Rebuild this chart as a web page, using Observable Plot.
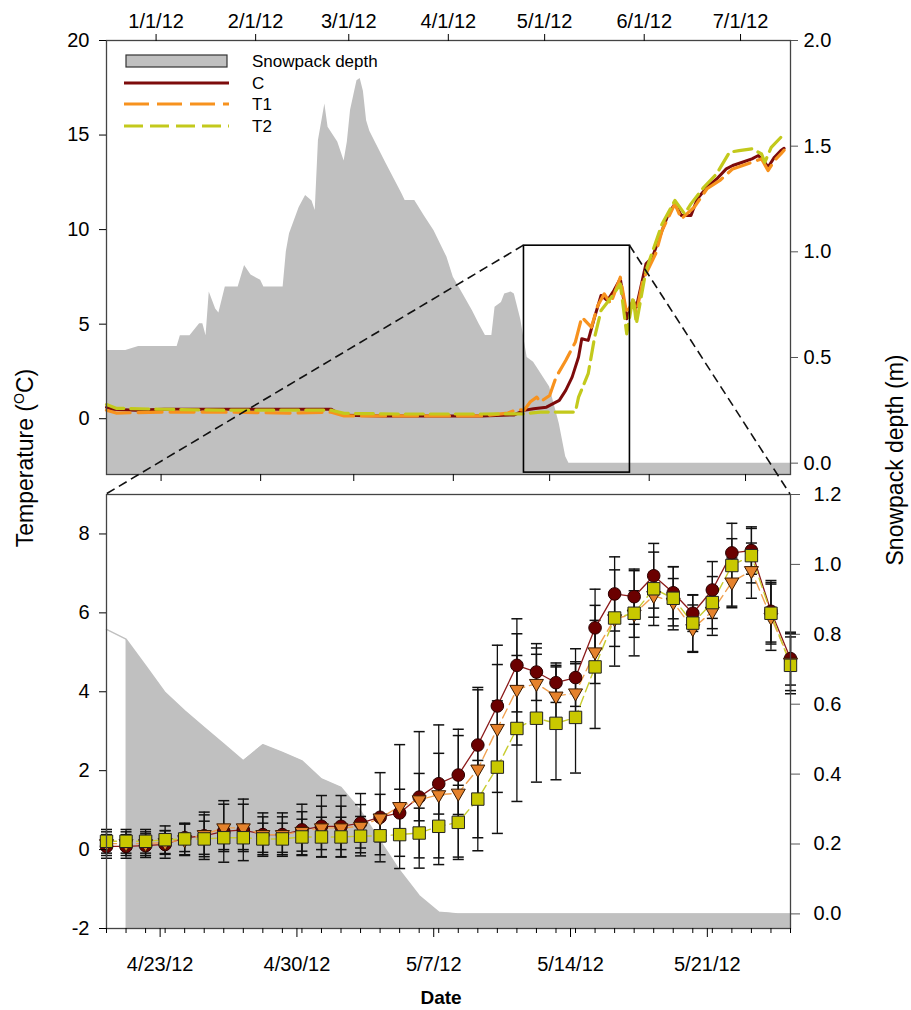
<!DOCTYPE html>
<html><head><meta charset="utf-8">
<script src="https://cdn.jsdelivr.net/npm/d3@7"></script>
<script src="https://cdn.jsdelivr.net/npm/@observablehq/plot@0.6"></script>
<style>
body{margin:0;background:#fff;}
#wrap{position:relative;width:911px;height:1010px;}
</style></head><body><div id="wrap"></div>
<script>
// ---------------- DATA ----------------
// Top panel: snowpack depth (m), Dec 2011 - Jul 2012
const snowTop = [["2011-12-15",0.533],["2011-12-21",0.533],["2011-12-25",0.552],["2012-01-06",0.552],["2012-01-07",0.603],["2012-01-10",0.603],["2012-01-13",0.66],["2012-01-14",0.66],["2012-01-15",0.603],["2012-01-16",0.81],["2012-01-18",0.73],["2012-01-19",0.71],["2012-01-21",0.833],["2012-01-25",0.833],["2012-01-27",0.935],["2012-01-29",0.89],["2012-02-01",0.865],["2012-02-02",0.833],["2012-02-08",0.833],["2012-02-09",1.0],["2012-02-10",1.085],["2012-02-13",1.21],["2012-02-15",1.266],["2012-02-17",1.24],["2012-02-18",1.195],["2012-02-19",1.527],["2012-02-21",1.70],["2012-02-22",1.59],["2012-02-25",1.52],["2012-02-27",1.43],["2012-02-28",1.52],["2012-02-29",1.67],["2012-03-02",1.81],["2012-03-03",1.82],["2012-03-04",1.76],["2012-03-05",1.62],["2012-03-06",1.57],["2012-03-08",1.51],["2012-03-11",1.42],["2012-03-16",1.275],["2012-03-17",1.243],["2012-03-20",1.243],["2012-03-23",1.17],["2012-03-26",1.10],["2012-03-30",0.975],["2012-04-01",0.88],["2012-04-04",0.80],["2012-04-07",0.72],["2012-04-09",0.66],["2012-04-11",0.604],["2012-04-13",0.604],["2012-04-14",0.738],["2012-04-16",0.76],["2012-04-17",0.80],["2012-04-19",0.81],["2012-04-20",0.80],["2012-04-22",0.68],["2012-04-24",0.50],["2012-04-26",0.478],["2012-05-01",0.36],["2012-05-04",0.186],["2012-05-06",0.03],["2012-05-07",0.0],["2012-07-15",0.0]];

// Top panel: temperature (°C)
const tempC = [["2011-12-15",0.6],["2011-12-17",0.5],["2011-12-24",0.45],["2012-01-02",0.5],["2012-01-15",0.5],["2012-02-01",0.5],["2012-02-15",0.5],["2012-02-23",0.5],["2012-02-25",0.3],["2012-02-27",0.18],["2012-03-10",0.15],["2012-03-25",0.15],["2012-04-10",0.15],["2012-04-20",0.2],["2012-04-23",0.44],["2012-04-26",0.53],["2012-04-30",0.61],["2012-05-04",0.97],["2012-05-06",1.5],["2012-05-08",2.2],["2012-05-10",3.26],["2012-05-11",4.23],["2012-05-13",4.14],["2012-05-15",5.37],["2012-05-17",6.52],["2012-05-19",6.25],["2012-05-21",6.78],["2012-05-23",7.4],["2012-05-25",5.29],["2012-05-27",6.25],["2012-05-28",5.9],["2012-05-31",8.19],["2012-06-02",8.54],["2012-06-05",9.95],["2012-06-07",10.84],["2012-06-09",11.36],["2012-06-11",10.75],["2012-06-14",10.75],["2012-06-16",11.63],["2012-06-19",12.24],["2012-06-22",12.68],["2012-06-25",13.21],["2012-06-27",13.39],["2012-06-30",13.56],["2012-07-03",13.74],["2012-07-05",13.92],["2012-07-07",13.56],["2012-07-08",13.3],["2012-07-10",13.83],["2012-07-12",14.18],["2012-07-13",14.3]];
const tempT1 = [["2011-12-15",0.45],["2011-12-18",0.3],["2012-01-01",0.35],["2012-01-20",0.35],["2012-02-10",0.3],["2012-02-23",0.35],["2012-02-27",0.15],["2012-03-15",0.15],["2012-04-10",0.15],["2012-04-18",0.3],["2012-04-21",0.5],["2012-04-23",0.44],["2012-04-25",0.9],["2012-04-27",1.14],["2012-04-28",0.88],["2012-05-01",1.23],["2012-05-03",2.2],["2012-05-06",3.08],["2012-05-09",4.05],["2012-05-11",5.37],["2012-05-13",5.02],["2012-05-14",4.84],["2012-05-16",5.99],["2012-05-18",6.6],["2012-05-20",6.08],["2012-05-23",7.48],["2012-05-25",5.55],["2012-05-27",6.25],["2012-05-28",5.55],["2012-05-30",7.31],["2012-06-03",8.72],["2012-06-05",9.95],["2012-06-09",11.36],["2012-06-11",10.57],["2012-06-15",11.18],["2012-06-19",12.16],["2012-06-23",12.6],["2012-06-27",13.21],["2012-07-03",13.56],["2012-07-06",13.74],["2012-07-08",13.12],["2012-07-10",13.65],["2012-07-12",14.0],["2012-07-13",14.2]];
const tempT2 = [["2011-12-15",0.75],["2011-12-18",0.55],["2012-01-01",0.5],["2012-01-20",0.45],["2012-02-10",0.45],["2012-02-23",0.45],["2012-02-27",0.28],["2012-03-15",0.25],["2012-04-10",0.25],["2012-04-23",0.26],["2012-04-28",0.35],["2012-05-09",0.35],["2012-05-10",1.14],["2012-05-13",2.38],["2012-05-15",4.31],["2012-05-17",5.72],["2012-05-19",6.16],["2012-05-21",6.6],["2012-05-23",7.13],["2012-05-25",4.49],["2012-05-27",6.43],["2012-05-28",5.02],["2012-05-31",7.84],["2012-06-05",10.3],["2012-06-09",11.54],["2012-06-12",10.84],["2012-06-14",11.36],["2012-06-18",12.24],["2012-06-22",12.95],["2012-06-26",14.09],["2012-06-29",14.18],["2012-07-03",14.27],["2012-07-06",14.0],["2012-07-07",13.56],["2012-07-09",14.35],["2012-07-12",14.88],["2012-07-13",15.0]];

// zoom window drawn in the top panel
const zoomBox = {x1: "2012-04-23", x2: "2012-05-26", y1: -2.85, y2: 9.15};

// Bottom panel: daily means Apr 20 - May 25, 2012
const bStart = "2012-04-20", bEnd = "2012-05-25";
const snowBot = [0.814,0.786,0.71,0.633,0.581,0.533,0.486,0.438,0.484,0.462,0.438,0.386,0.362,0.295,0.209,0.124,0.052,0.005,0,0,0,0,0,0,0,0,0,0,0,0,0,0,0,0,0,0];
const meanC  = [0.08,0.08,0.1,0.13,0.3,0.35,0.46,0.5,0.38,0.38,0.5,0.59,0.59,0.67,0.82,0.93,1.33,1.67,1.89,2.65,3.64,4.67,4.5,4.23,4.36,5.62,6.48,6.41,6.94,6.51,5.99,6.58,7.52,7.58,6.04,4.84];
const meanT1 = [0.15,0.15,0.15,0.18,0.25,0.38,0.55,0.55,0.38,0.38,0.46,0.55,0.55,0.59,0.8,1.09,1.26,1.39,1.43,2.04,3.07,4.06,4.21,3.89,3.97,5.01,5.85,5.97,6.44,6.27,5.6,6.04,6.78,7.07,5.89,4.75];
const meanT2 = [0.21,0.21,0.21,0.25,0.27,0.27,0.3,0.3,0.27,0.27,0.32,0.32,0.32,0.34,0.35,0.38,0.42,0.59,0.69,1.28,2.09,3.07,3.33,3.2,3.35,4.63,5.87,5.99,6.61,6.37,5.74,6.26,7.2,7.45,5.99,4.67];
const sdC  = [0.3,0.3,0.3,0.35,0.35,0.6,0.78,0.78,0.55,0.55,0.65,0.78,0.78,0.75,1.13,0.6,0.6,0.77,1.0,1.4,1.54,1.18,0.72,0.5,0.73,0.98,0.94,0.7,0.82,0.66,0.46,0.72,0.36,0.6,0.78,0.67];
const sdT1 = [0.3,0.3,0.3,0.3,0.4,0.5,0.6,0.6,0.45,0.45,0.5,0.55,0.55,0.55,0.6,1.57,1.73,1.77,1.62,2.07,1.62,1.41,0.9,0.78,0.74,0.8,0.7,0.59,0.55,0.6,0.6,0.61,0.61,0.7,0.84,0.72];
const sdT2 = [0.3,0.3,0.3,0.35,0.4,0.45,0.3,0.3,0.4,0.4,0.45,0.5,0.5,0.5,0.48,0.55,0.63,0.8,0.94,0.98,1.68,1.85,1.62,1.43,1.41,1.56,1.22,1.08,0.93,0.8,0.72,0.66,1.07,0.69,0.78,0.72];

// tick values
const topMonthTicks = ["2012-01-01","2012-02-01","2012-03-01","2012-04-01","2012-05-01","2012-06-01","2012-07-01"];
const topTempTicks = [0, 5, 10, 15, 20];
const topSnowTicks = [0, 0.5, 1.0, 1.5, 2.0];
const botWeekTicks = ["2012-04-23","2012-04-30","2012-05-07","2012-05-14","2012-05-21"];
const botTempTicks = [-2, 0, 2, 4, 6, 8];
const botSnowTicks = [0, 0.2, 0.4, 0.6, 0.8, 1.0, 1.2];

// ---------------- STYLE ----------------
const FONT = '"Liberation Sans", Arial, Helvetica, sans-serif';
const colC = "#7d0b0b", colT1 = "#f7921e", colT2 = "#c3c91c", snowCol = "#c0c0c0";
const mkC = "#6b0000", mkT1 = "#e5822c", mkT2 = "#c9c800";

// snow -> temperature axis mappings (secondary right axes)
const topYDomain = [-2.95, 20], botYDomain = [-2, 9];
const topA = -2.35, topB = (20 - topA) / 2.0;
const botA = -1.63, botB = (9 - botA) / 1.2;
const topT = s => topA + topB * s;
const botT = s => botA + botB * s;

const D = s => new Date(s);
const fmt = d3.utcFormat("%-m/%-d/%y");
const plain = d => String(d);
const toRows = arr => arr.map(([d, v]) => ({date: D(d), v}));

const bDates = d3.utcDays(D(bStart), d3.utcDay.offset(D(bEnd), 1));
const bData = bDates.map((date, i) => ({
  date, s: snowBot[i],
  c: meanC[i], t1: meanT1[i], t2: meanT2[i],
  sc: sdC[i], s1: sdT1[i], s2: sdT2[i]
}));

const capSymbol = {draw(ctx, size) { const w = Math.sqrt(size / Math.PI); ctx.moveTo(-w, 0); ctx.lineTo(w, 0); }};

const svgStyle = {position: "absolute", left: "0px", top: "0px", background: "transparent", fontFamily: FONT, fontSize: "20px", color: "#000", overflow: "visible"};

// ---------------- TOP PANEL ----------------
const topPlot = Plot.plot({
  width: 911, height: 490,
  marginTop: 40, marginBottom: 16, marginLeft: 106, marginRight: 121,
  style: svgStyle,
  x: {type: "utc", domain: [D("2011-12-15"), D("2012-07-15")]},
  y: {domain: topYDomain},
  marks: [
    Plot.areaY(toRows(snowTop), {x: "date", y1: () => topYDomain[0], y2: d => topT(d.v), fill: snowCol}),
    Plot.line(toRows(tempC), {x: "date", y: "v", stroke: colC, strokeWidth: 3}),
    Plot.line(toRows(tempT1), {x: "date", y: "v", stroke: colT1, strokeWidth: 3.2, strokeDasharray: "24,8"}),
    Plot.line(toRows(tempT2), {x: "date", y: "v", stroke: colT2, strokeWidth: 3.2, strokeDasharray: "18,7"}),
    Plot.rect([zoomBox], {x1: d => D(d.x1), x2: d => D(d.x2), y1: "y1", y2: "y2", fill: "none", stroke: "#000", strokeWidth: 1.6}),
    Plot.frame({stroke: "#444", strokeWidth: 1.3}),
    Plot.axisX({anchor: "top", ticks: topMonthTicks.map(D), tickFormat: fmt, tickSize: 7, tickPadding: 6, dx: -5, label: null}),
    Plot.axisX({anchor: "bottom", ticks: topMonthTicks.map(D), tickFormat: () => "", tickSize: 7, label: null}),
    Plot.axisY({anchor: "left", ticks: topTempTicks, tickFormat: plain, tickSize: 7, tickPadding: 10, label: null}),
    Plot.axisY({anchor: "right", ticks: topSnowTicks.map(topT), tickFormat: t => ((t - topA) / topB).toFixed(1), tickSize: 7, tickPadding: 6, label: null, stroke: "#555"})
  ]
});

// ---------------- BOTTOM PANEL ----------------
const bar = (key, sd) => [
  Plot.ruleX(bData, {x: "date", y1: d => d[key] - d[sd], y2: d => d[key] + d[sd], stroke: "#111", strokeWidth: 1.3}),
  Plot.dot(bData, {x: "date", y: d => d[key] + d[sd], symbol: capSymbol, r: 5.5, stroke: "#111", fill: "none", strokeWidth: 1.5}),
  Plot.dot(bData, {x: "date", y: d => d[key] - d[sd], symbol: capSymbol, r: 5.5, stroke: "#111", fill: "none", strokeWidth: 1.5})
];

const botPlot = Plot.plot({
  width: 911, height: 1010,
  marginTop: 494, marginBottom: 82, marginLeft: 106, marginRight: 121,
  style: svgStyle,
  x: {type: "utc", domain: [D(bStart), D(bEnd)]},
  y: {domain: botYDomain},
  marks: [
    Plot.areaY(bData.slice(1), {x: "date", y1: () => botYDomain[0], y2: d => botT(d.s), fill: snowCol}),
    Plot.line(bData, {x: "date", y: d => botT(d.s), stroke: snowCol, strokeWidth: 1.5}),
    ...bar("c", "sc"), ...bar("t1", "s1"), ...bar("t2", "s2"),
    Plot.line(bData, {x: "date", y: "c", stroke: "#8b1a1a", strokeWidth: 1.3}),
    Plot.line(bData, {x: "date", y: "t1", stroke: "#f0a050", strokeWidth: 1.4, strokeDasharray: "10,5"}),
    Plot.line(bData, {x: "date", y: "t2", stroke: "#c8cc30", strokeWidth: 1.4, strokeDasharray: "10,5"}),
    Plot.dot(bData, {x: "date", y: "c", symbol: "circle", r: 6.3, fill: mkC, stroke: "#2a0000", strokeWidth: 1}),
    Plot.dot(bData, {x: "date", y: "t1", symbol: "triangle", r: 5.2, rotate: 180, fill: mkT1, stroke: "#3a1a00", strokeWidth: 1}),
    Plot.dot(bData, {x: "date", y: "t2", symbol: "square", r: 7, fill: mkT2, stroke: "#222", strokeWidth: 1}),
    Plot.frame({stroke: "#444", strokeWidth: 1.3}),
    Plot.axisX({anchor: "bottom", ticks: bDates, tickFormat: () => "", tickSize: 5, label: null}),
    Plot.axisX({anchor: "bottom", ticks: botWeekTicks.map(D), tickFormat: fmt, tickSize: 9, tickPadding: 19, dx: -5, label: null}),
    Plot.axisY({anchor: "left", ticks: botTempTicks, tickFormat: plain, tickSize: 7, tickPadding: 10, label: null}),
    Plot.axisY({anchor: "right", ticks: botSnowTicks.map(botT), tickFormat: t => ((t - botA) / botB).toFixed(1), tickSize: 9, tickPadding: 14, label: null, stroke: "#555"})
  ]
});

const wrap = document.getElementById("wrap");
wrap.appendChild(topPlot);
wrap.appendChild(botPlot);

// ---------------- OVERLAY: connectors, legend, titles ----------------
const xT = topPlot.scale("x"), yT = topPlot.scale("y");
const xB = botPlot.scale("x"), yB = botPlot.scale("y");
const ov = d3.select(wrap).append("svg")
  .attr("width", 911).attr("height", 1010)
  .style("position", "absolute").style("left", "0px").style("top", "0px")
  .style("font-family", FONT);

[[zoomBox.x1, bStart], [zoomBox.x2, bEnd]].forEach(([a, b]) => {
  ov.append("line")
    .attr("x1", xT.apply(D(a))).attr("y1", yT.apply(zoomBox.y2))
    .attr("x2", xB.apply(D(b))).attr("y2", yB.apply(botYDomain[1]))
    .attr("stroke", "#111").attr("stroke-width", 1.6).attr("stroke-dasharray", "9,5");
});

// legend
const lg = ov.append("g").attr("font-size", 17);
lg.append("rect").attr("x", 126).attr("y", 55).attr("width", 101).attr("height", 12)
  .attr("fill", snowCol).attr("stroke", "#333").attr("stroke-width", 1.2);
const legendRows = [
  {label: "Snowpack depth", y: 61},
  {label: "C", y: 83, stroke: colC, dash: null},
  {label: "T1", y: 104, stroke: colT1, dash: "25,8"},
  {label: "T2", y: 126, stroke: colT2, dash: "19,7"}
];
legendRows.forEach(r => {
  if (r.stroke) {
    lg.append("line").attr("x1", 124).attr("x2", 229).attr("y1", r.y).attr("y2", r.y)
      .attr("stroke", r.stroke).attr("stroke-width", 3.2).attr("stroke-dasharray", r.dash);
  }
  lg.append("text").attr("x", 252).attr("y", r.y).attr("dy", "0.35em").text(r.label);
});

// axis titles
const tl = ov.append("text").attr("font-size", 23)
  .attr("transform", "translate(33,458) rotate(-90)").attr("text-anchor", "middle");
tl.append("tspan").text("Temperature (");
tl.append("tspan").attr("font-size", 14).attr("dy", -9).text("O");
tl.append("tspan").attr("dy", 9).text("C)");

ov.append("text").attr("font-size", 23)
  .attr("transform", "translate(903,460) rotate(-90)").attr("text-anchor", "middle")
  .text("Snowpack depth (m)");

ov.append("text").attr("x", 441).attr("y", 1004).attr("text-anchor", "middle")
  .attr("font-size", 19).attr("font-weight", "bold").text("Date");
</script>
</body></html>
